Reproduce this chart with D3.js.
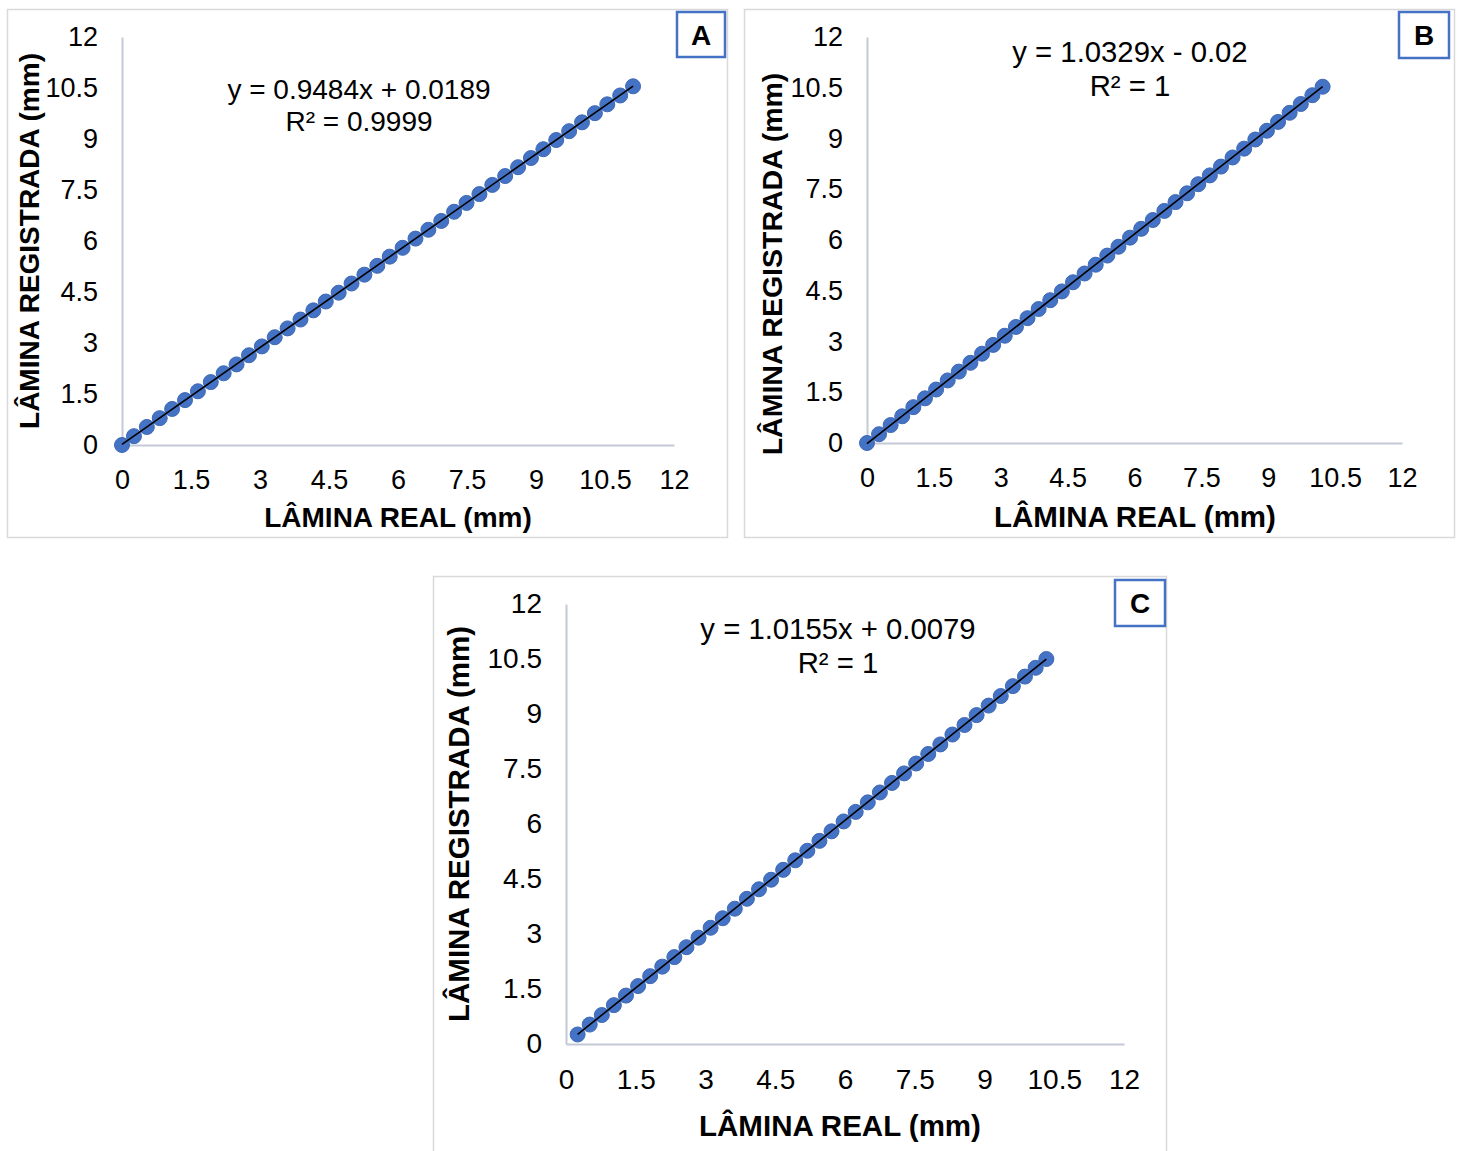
<!DOCTYPE html>
<html>
<head>
<meta charset="utf-8">
<script src="https://cdn.jsdelivr.net/npm/d3@7"></script>
<style>
  body { margin: 0; background: #fff; }
  svg text { font-family: "Liberation Sans", Arial, sans-serif; fill: #000; }
</style>
</head>
<body>
<div id="chart"></div>
<script>
// ---- data ----
// panel A
var realA = [0, 0.26, 0.54, 0.82, 1.09, 1.37, 1.65, 1.93, 2.21, 2.49, 2.76, 3.04, 3.32, 3.60, 3.88, 4.16, 4.43, 4.71, 4.99, 5.27, 5.55, 5.82, 6.10, 6.38, 6.66, 6.94, 7.22, 7.49, 7.77, 8.05, 8.33, 8.61, 8.89, 9.16, 9.44, 9.72, 10.00, 10.28, 10.55, 10.83, 11.11];
var regA = [0, 0.26, 0.53, 0.79, 1.06, 1.32, 1.58, 1.85, 2.11, 2.37, 2.64, 2.90, 3.17, 3.43, 3.69, 3.96, 4.22, 4.48, 4.75, 5.01, 5.27, 5.54, 5.80, 6.07, 6.33, 6.59, 6.86, 7.12, 7.38, 7.65, 7.91, 8.17, 8.44, 8.70, 8.97, 9.23, 9.49, 9.76, 10.02, 10.28, 10.55];
// panel B
var realB = [0, 0.27, 0.53, 0.79, 1.04, 1.30, 1.55, 1.81, 2.06, 2.32, 2.58, 2.83, 3.09, 3.34, 3.60, 3.85, 4.11, 4.37, 4.62, 4.88, 5.13, 5.39, 5.64, 5.90, 6.15, 6.41, 6.67, 6.92, 7.18, 7.43, 7.69, 7.94, 8.20, 8.46, 8.71, 8.97, 9.22, 9.48, 9.73, 9.99, 10.22];
var regB = [0, 0.26, 0.53, 0.79, 1.06, 1.32, 1.58, 1.85, 2.11, 2.37, 2.64, 2.90, 3.17, 3.43, 3.69, 3.96, 4.22, 4.48, 4.75, 5.01, 5.27, 5.54, 5.80, 6.07, 6.33, 6.59, 6.86, 7.12, 7.38, 7.65, 7.91, 8.17, 8.44, 8.70, 8.97, 9.23, 9.49, 9.76, 10.02, 10.28, 10.53];
// panel C
var realC = [0.25, 0.51, 0.77, 1.03, 1.29, 1.55, 1.81, 2.07, 2.33, 2.59, 2.85, 3.11, 3.37, 3.63, 3.89, 4.15, 4.41, 4.67, 4.93, 5.19, 5.45, 5.71, 5.97, 6.23, 6.49, 6.75, 7.01, 7.27, 7.53, 7.79, 8.05, 8.31, 8.57, 8.83, 9.09, 9.35, 9.61, 9.87, 10.10, 10.33];
var regC = [0.26, 0.53, 0.79, 1.06, 1.32, 1.58, 1.85, 2.11, 2.37, 2.64, 2.90, 3.17, 3.43, 3.69, 3.96, 4.22, 4.48, 4.75, 5.01, 5.27, 5.54, 5.80, 6.07, 6.33, 6.59, 6.86, 7.12, 7.38, 7.65, 7.91, 8.17, 8.44, 8.70, 8.97, 9.23, 9.49, 9.76, 10.02, 10.26, 10.50];

// trendline coefficients and labels
var panelNames = ["A", "B", "C"];
var slopes = [0.9484, 1.0329, 1.0155];
var intercepts = [0.0189, -0.02, 0.0079];
var eqLabels = ["y = 0.9484x + 0.0189", "y = 1.0329x - 0.02", "y = 1.0155x + 0.0079"];
var r2Labels = ["R² = 0.9999", "R² = 1", "R² = 1"];

// axis ticks (both axes)
var tickValues = [0, 1.5, 3, 4.5, 6, 7.5, 9, 10.5, 12];
var xTitle = "LÂMINA REAL (mm)";
var yTitle = "LÂMINA REGISTRADA (mm)";

var seriesX = [realA, realB, realC];
var seriesY = [regA, regB, regC];

// ---- layout (pixels) ----
var layout = [
  { box: [7, 9, 720, 528], plot: [122, 37, 674, 445], tag: [677, 12, 48, 45],
    eq: [359, 99, 131], eqSize: 28, tickSize: 27, xtSize: 28, ytSize: 28,
    yTitle: [29, 241], xTitle: [398, 527], xPad: 25 },
  { box: [744, 9, 710, 528], plot: [867, 37, 1402, 443], tag: [1399, 12, 50, 46],
    eq: [1130, 62, 96], eqSize: 29.3, tickSize: 27, xtSize: 29.5, ytSize: 28.5,
    yTitle: [772, 264], xTitle: [1135, 527], xPad: 25 },
  { box: [433, 576, 733, 600], plot: [566, 604, 1124, 1044], tag: [1115, 580, 50, 46],
    eq: [838, 639, 673], eqSize: 29.3, tickSize: 28, xtSize: 29.5, ytSize: 29.5,
    yTitle: [459, 824], xTitle: [840, 1136], xPad: 25 }
];

var svg = d3.select("#chart")
  .append("svg")
  .attr("width", 1459)
  .attr("height", 1151);

var axisColor = "#c3cad6";
var pointColor = "#4472c4";

// draw one panel
function drawPanel(i) {
  var L = layout[i];
  var g = svg.append("g").attr("id", "panel" + panelNames[i]);

  // outer border
  g.append("rect")
    .attr("x", L.box[0] + 0.5).attr("y", L.box[1] + 0.5)
    .attr("width", L.box[2]).attr("height", L.box[3])
    .attr("fill", "#fff")
    .attr("stroke", "#d9d9d9")
    .attr("stroke-width", 1.5);

  var xScale = d3.scaleLinear().domain([0, 12]).range([L.plot[0], L.plot[2]]);
  var yScale = d3.scaleLinear().domain([0, 12]).range([L.plot[3], L.plot[1]]);

  // x axis
  var xAxis = d3.axisBottom(xScale).tickValues(tickValues).tickSize(0).tickPadding(L.xPad)
    .tickFormat(d3.format("~g"));
  var gx = g.append("g")
    .attr("transform", `translate(0, ${L.plot[3]})`)
    .call(xAxis);
  gx.select(".domain").attr("stroke", axisColor).attr("stroke-width", 2);
  gx.selectAll("text").attr("font-size", L.tickSize).attr("font-family", "Liberation Sans, Arial").attr("fill", "#000");

  // y axis
  var yAxis = d3.axisLeft(yScale).tickValues(tickValues).tickSize(0).tickPadding(24)
    .tickFormat(d3.format("~g"));
  var gy = g.append("g")
    .attr("transform", `translate(${L.plot[0]}, 0)`)
    .call(yAxis);
  gy.select(".domain").attr("stroke", axisColor).attr("stroke-width", 2);
  gy.selectAll("text").attr("font-size", L.tickSize).attr("font-family", "Liberation Sans, Arial").attr("fill", "#000");

  var xs = seriesX[i], ys = seriesY[i];
  var pts = xs.map((x, j) => [x, ys[j]]);

  // markers
  g.append("g").selectAll("circle")
    .data(pts)
    .enter().append("circle")
    .attr("cx", d => xScale(d[0]))
    .attr("cy", d => yScale(d[1]))
    .attr("r", 7.5)
    .attr("fill", pointColor)
    .attr("stroke", "#3f69b5")
    .attr("stroke-width", 1);

  // linear trendline over the data range
  var x0 = d3.min(xs), x1 = d3.max(xs);
  g.append("line")
    .attr("x1", xScale(x0)).attr("y1", yScale(slopes[i] * x0 + intercepts[i]))
    .attr("x2", xScale(x1)).attr("y2", yScale(slopes[i] * x1 + intercepts[i]))
    .attr("stroke", "#000")
    .attr("stroke-width", 1.6);

  // equation
  g.append("text")
    .attr("x", L.eq[0]).attr("y", L.eq[1])
    .attr("text-anchor", "middle").attr("font-size", L.eqSize)
    .text(eqLabels[i]);
  g.append("text")
    .attr("x", L.eq[0]).attr("y", L.eq[2])
    .attr("text-anchor", "middle").attr("font-size", L.eqSize)
    .text(r2Labels[i]);

  // axis titles
  g.append("text")
    .attr("x", L.xTitle[0]).attr("y", L.xTitle[1])
    .attr("text-anchor", "middle").attr("font-size", L.xtSize).attr("font-weight", "bold")
    .text(xTitle);
  g.append("text")
    .attr("transform", `translate(${L.yTitle[0] + 10}, ${L.yTitle[1]}) rotate(-90)`)
    .attr("text-anchor", "middle").attr("font-size", L.ytSize).attr("font-weight", "bold")
    .text(yTitle);

  // panel tag
  g.append("rect")
    .attr("x", L.tag[0]).attr("y", L.tag[1])
    .attr("width", L.tag[2]).attr("height", L.tag[3])
    .attr("fill", "#fff")
    .attr("stroke", pointColor)
    .attr("stroke-width", 2.5);
  g.append("text")
    .attr("x", L.tag[0] + L.tag[2] / 2).attr("y", L.tag[1] + L.tag[3] / 2 + 10)
    .attr("text-anchor", "middle").attr("font-size", 28).attr("font-weight", "bold")
    .text(panelNames[i]);
}

for (var i = 0; i < panelNames.length; i++) {
  drawPanel(i);
}
</script>
</body>
</html>
